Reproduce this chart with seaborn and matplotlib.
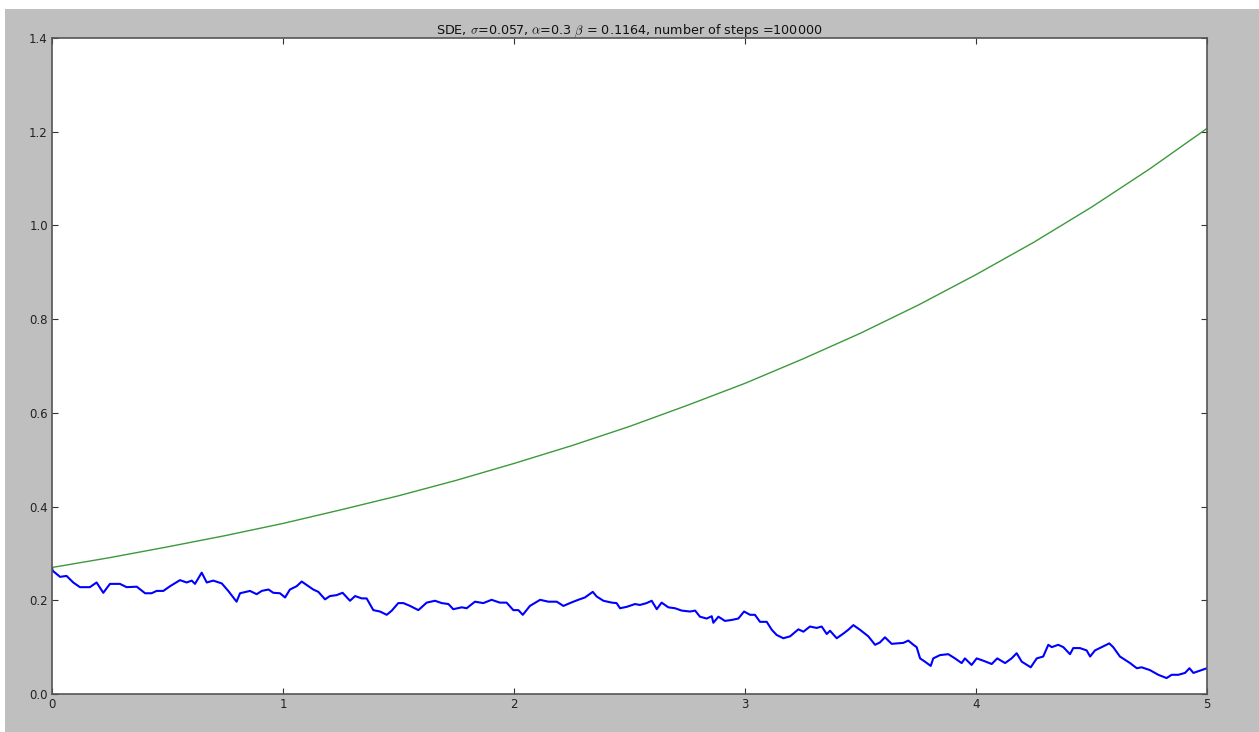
import matplotlib
matplotlib.use("Agg")
import matplotlib.pyplot as plt
import matplotlib.patches as mpatches
import numpy as np
import pandas as pd
import seaborn as sns

# Deterministic part of the solution (green curve)
t_det = [0.0, 0.25, 0.5, 0.75, 1.0, 1.25, 1.5, 1.75, 2.0, 2.25, 2.5,
         2.75, 3.0, 3.25, 3.5, 3.75, 4.0, 4.25, 4.5, 4.75, 5.0]
x_det = [0.270, 0.291, 0.314, 0.338, 0.364, 0.393, 0.423, 0.456, 0.492, 0.530, 0.571,
         0.616, 0.663, 0.715, 0.770, 0.830, 0.895, 0.964, 1.039, 1.120, 1.207]

# Simulated SDE path (blue curve)
t_sde = [0.000, 0.003, 0.035, 0.063, 0.092, 0.121, 0.164, 0.193, 0.222, 0.251, 0.294,
         0.323, 0.367, 0.403, 0.431, 0.453, 0.482, 0.511, 0.554, 0.583, 0.605,
         0.619, 0.648, 0.670, 0.698, 0.735, 0.763, 0.799, 0.814, 0.857, 0.886,
         0.908, 0.937, 0.958, 0.987, 1.009, 1.030, 1.059, 1.081, 1.110, 1.131,
         1.153, 1.182, 1.203, 1.232, 1.258, 1.290, 1.312, 1.341, 1.362, 1.391,
         1.420, 1.449, 1.471, 1.499, 1.521, 1.550, 1.586, 1.622, 1.658, 1.687,
         1.716, 1.737, 1.774, 1.795, 1.831, 1.867, 1.903, 1.939, 1.968, 1.997,
         2.019, 2.038, 2.069, 2.113, 2.149, 2.185, 2.214, 2.242, 2.278, 2.307,
         2.341, 2.358, 2.387, 2.423, 2.444, 2.459, 2.488, 2.524, 2.545, 2.574,
         2.596, 2.618, 2.639, 2.668, 2.697, 2.726, 2.762, 2.784, 2.805, 2.834,
         2.856, 2.863, 2.885, 2.913, 2.942, 2.971, 2.996, 3.022, 3.043, 3.065,
         3.094, 3.116, 3.137, 3.166, 3.195, 3.231, 3.253, 3.281, 3.310, 3.332,
         3.354, 3.368, 3.397, 3.426, 3.447, 3.469, 3.498, 3.534, 3.563, 3.584,
         3.606, 3.635, 3.657, 3.685, 3.707, 3.729, 3.743, 3.758, 3.779, 3.804,
         3.815, 3.844, 3.880, 3.909, 3.938, 3.952, 3.981, 4.003, 4.032, 4.068,
         4.092, 4.126, 4.154, 4.176, 4.198, 4.237, 4.263, 4.291, 4.313, 4.328,
         4.356, 4.378, 4.407, 4.421, 4.450, 4.479, 4.494, 4.515, 4.544, 4.577,
         4.594, 4.623, 4.667, 4.696, 4.717, 4.753, 4.789, 4.825, 4.847, 4.876,
         4.905, 4.924, 4.941, 4.970, 5.000]
x_sde = [0.270, 0.263, 0.250, 0.252, 0.238, 0.228, 0.228, 0.238, 0.216, 0.235, 0.235,
         0.228, 0.229, 0.215, 0.215, 0.220, 0.220, 0.230, 0.243, 0.238, 0.242,
         0.235, 0.259, 0.238, 0.242, 0.236, 0.220, 0.197, 0.215, 0.220, 0.213,
         0.220, 0.223, 0.216, 0.215, 0.206, 0.223, 0.230, 0.240, 0.230, 0.223,
         0.218, 0.202, 0.209, 0.211, 0.216, 0.199, 0.209, 0.204, 0.204, 0.179,
         0.176, 0.169, 0.178, 0.194, 0.194, 0.188, 0.179, 0.195, 0.199, 0.194,
         0.192, 0.181, 0.185, 0.183, 0.197, 0.194, 0.201, 0.195, 0.195, 0.179,
         0.179, 0.169, 0.188, 0.201, 0.197, 0.197, 0.188, 0.194, 0.201, 0.206,
         0.218, 0.208, 0.199, 0.195, 0.194, 0.183, 0.186, 0.192, 0.190, 0.194,
         0.199, 0.181, 0.195, 0.185, 0.183, 0.178, 0.176, 0.178, 0.165, 0.161,
         0.166, 0.152, 0.165, 0.156, 0.158, 0.161, 0.176, 0.169, 0.169, 0.154,
         0.154, 0.137, 0.126, 0.119, 0.123, 0.138, 0.133, 0.144, 0.141, 0.144,
         0.128, 0.135, 0.119, 0.129, 0.137, 0.147, 0.137, 0.123, 0.105, 0.110,
         0.121, 0.107, 0.108, 0.109, 0.114, 0.105, 0.100, 0.076, 0.069, 0.060,
         0.076, 0.083, 0.085, 0.076, 0.066, 0.076, 0.062, 0.076, 0.071, 0.064,
         0.076, 0.066, 0.076, 0.087, 0.069, 0.057, 0.076, 0.080, 0.105, 0.100,
         0.105, 0.100, 0.085, 0.098, 0.098, 0.093, 0.080, 0.093, 0.100, 0.108,
         0.100, 0.080, 0.066, 0.055, 0.057, 0.051, 0.041, 0.034, 0.041, 0.041,
         0.045, 0.055, 0.045, 0.050, 0.055]

x_ticks = [0, 1, 2, 3, 4, 5]
y_ticks = [0.0, 0.2, 0.4, 0.6, 0.8, 1.0, 1.2, 1.4]

sns.set_style("ticks")
plt.rcParams["font.family"] = ["DejaVu Sans"]
plt.rcParams["mathtext.fontset"] = "cm"

bg = "#bfbfbf"
fig = plt.figure(figsize=(12.59, 7.32), dpi=100, facecolor=bg)
# thin white frame along the top and left edges
fig.patches.append(mpatches.Rectangle((0, 1 - 9 / 732), 1, 9 / 732, transform=fig.transFigure,
                                      facecolor="white", edgecolor="none", zorder=-1))
fig.patches.append(mpatches.Rectangle((0, 0), 5 / 1259, 1, transform=fig.transFigure,
                                      facecolor="white", edgecolor="none", zorder=-1))

ax = fig.add_axes([52 / 1259, 38 / 732, (1207 - 52) / 1259, (694 - 38) / 732])
ax.set_facecolor("white")

df_sde = pd.DataFrame({"t": t_sde, "x": x_sde})
df_det = pd.DataFrame({"t": t_det, "x": x_det})
sns.lineplot(data=df_sde, x="t", y="x", ax=ax, color=(0, 0, 1), linewidth=1.5,
             estimator=None, sort=False)
sns.lineplot(data=df_det, x="t", y="x", ax=ax, color="#3c993c", linewidth=1.0,
             estimator=None, sort=False)

ax.set_xlim(0, 5)
ax.set_ylim(0, 1.4)
ax.set_xticks(x_ticks)
ax.set_xticklabels([str(v) for v in x_ticks])
ax.set_yticks(y_ticks)
ax.set_yticklabels([f"{v:.1f}" for v in y_ticks])
ax.set_xlabel("")
ax.set_ylabel("")
ax.tick_params(direction="in", length=4, width=0.8, color="#333333",
               top=True, right=True, labelsize=8.5, labelcolor="#222222", pad=3)
for s in ax.spines.values():
    s.set_visible(True)
    s.set_color("#555555")
    s.set_linewidth(1.2)

ax.set_title(r"SDE, $\sigma$=0.057, $\alpha$=0.3 $\beta$ = 0.1164, number of steps =100000",
             fontsize=9.2, color="#111111", pad=3)

fig.savefig("out.png", dpi=100, facecolor=bg)
